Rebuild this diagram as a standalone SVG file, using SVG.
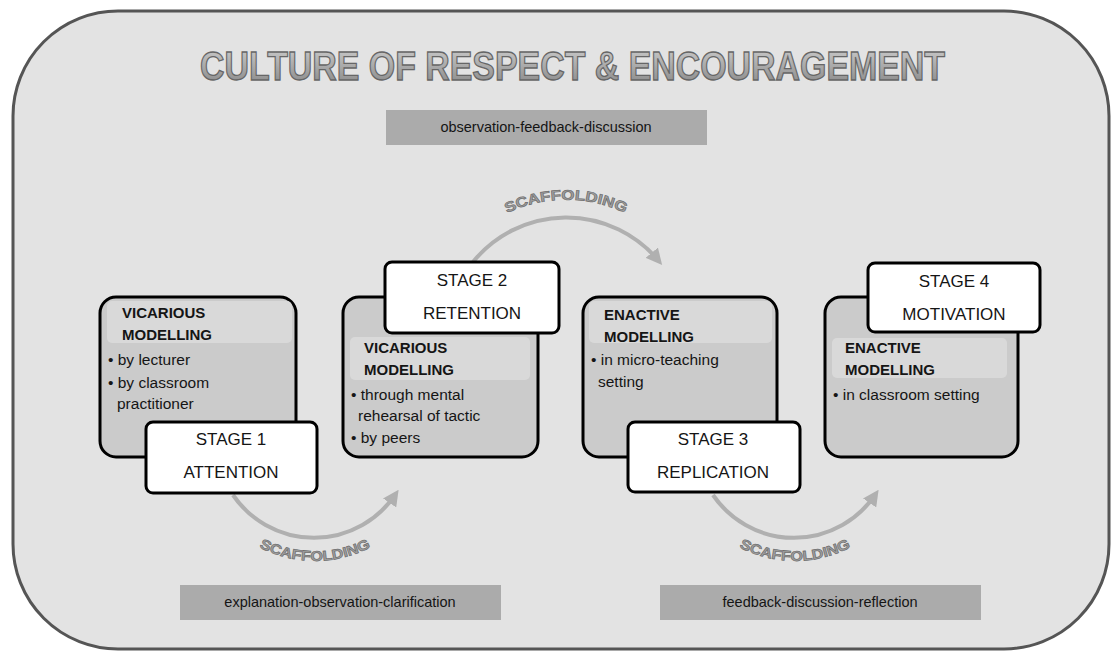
<svg xmlns="http://www.w3.org/2000/svg" width="1111" height="654" viewBox="0 0 1111 654">
<defs>
<linearGradient id="tg" x1="0" y1="0" x2="0" y2="1">
<stop offset="0" stop-color="#cfcfcf"/>
<stop offset="1" stop-color="#858585"/>
</linearGradient>
<marker id="ah" viewBox="0 0 10 10" refX="6" refY="5" markerWidth="4" markerHeight="4" orient="auto" markerUnits="strokeWidth">
<path d="M0,0 L10,5 L0,10 z" fill="#b0b0b0"/>
</marker>
<path id="tp1" d="M 471 238 A 137 137 0 0 1 661 238"/>
<path id="tp2" d="M 215 508 A 121 121 0 0 0 415 508"/>
<path id="tp3" d="M 695 508 A 121 121 0 0 0 895 508"/>
</defs>
<style>
.bg{fill:#e3e3e3;stroke:#555;stroke-width:3}
.gbox{fill:#cbcbcb;stroke:#000;stroke-width:3}
.band{fill:#d9d9d9}
.wbox{fill:#fff;stroke:#000;stroke-width:3}
.lbl{fill:#ababab}
.t{font-family:"Liberation Sans",Arial,sans-serif;fill:#151515}
.hd{font-size:15px;font-weight:bold}
.bl{font-size:15.5px}
.st{font-size:17px;text-anchor:middle}
.lb{font-size:14.5px;text-anchor:middle}
.arc{fill:none;stroke:#b0b0b0;stroke-width:4}
.sc{font-family:"Liberation Sans",Arial,sans-serif;font-size:14px;font-weight:bold;fill:#a0a0a0;stroke:#6e6e6e;stroke-width:0.7;text-anchor:middle}
</style>
<rect class="bg" x="13" y="11" width="1096" height="638" rx="105" ry="105"/>
<g id="title">
<text x="200" y="80" textLength="745" lengthAdjust="spacingAndGlyphs" font-family="Liberation Sans, Arial, sans-serif" font-size="40" font-weight="bold" fill="url(#tg)" stroke="#666" stroke-width="1.3">CULTURE OF RESPECT &amp; ENCOURAGEMENT</text>
</g>
<g id="label-top">
<rect class="lbl" x="386" y="110" width="321" height="35"/>
<text class="t lb" x="546" y="132">observation-feedback-discussion</text>
</g>
<g id="label-left">
<rect class="lbl" x="180" y="585" width="321" height="35"/>
<text class="t lb" x="340" y="607">explanation-observation-clarification</text>
</g>
<g id="label-right">
<rect class="lbl" x="660" y="585" width="321" height="35"/>
<text class="t lb" x="820" y="607">feedback-discussion-reflection</text>
</g>
<g id="connectors">
<path class="arc" d="M 473 262 A 120 120 0 0 1 658 260" marker-end="url(#ah)"/>
<path class="arc" d="M 233 495 A 98 98 0 0 0 395 495" marker-end="url(#ah)"/>
<path class="arc" d="M 713 495 A 98 98 0 0 0 875 495" marker-end="url(#ah)"/>
<text class="sc"><textPath href="#tp1" startOffset="50%" textLength="122" lengthAdjust="spacingAndGlyphs">SCAFFOLDING</textPath></text>
<text class="sc"><textPath href="#tp2" startOffset="50%" textLength="116" lengthAdjust="spacingAndGlyphs">SCAFFOLDING</textPath></text>
<text class="sc"><textPath href="#tp3" startOffset="50%" textLength="116" lengthAdjust="spacingAndGlyphs">SCAFFOLDING</textPath></text>
</g>
<g id="stage1">
<rect class="gbox" x="100" y="297" width="196" height="160" rx="16"/>
<rect class="band" x="107" y="301" width="185" height="42" rx="5"/>
<text class="t hd" x="122" y="318">VICARIOUS</text>
<text class="t hd" x="122" y="340">MODELLING</text>
<text class="t bl" x="108" y="365">• by lecturer</text>
<text class="t bl" x="108" y="388">• by  classroom</text>
<text class="t bl" x="117" y="409">practitioner</text>
<rect class="wbox" x="146" y="422" width="171" height="71" rx="7"/>
<text class="t st" x="231" y="445">STAGE 1</text>
<text class="t st" x="231" y="478">ATTENTION</text>
</g>
<g id="stage2">
<rect class="gbox" x="343" y="297" width="195" height="160" rx="16"/>
<rect class="band" x="350" y="337" width="180" height="43" rx="5"/>
<text class="t hd" x="364" y="353">VICARIOUS</text>
<text class="t hd" x="364" y="375">MODELLING</text>
<text class="t bl" x="351" y="400">• through mental</text>
<text class="t bl" x="358" y="421">rehearsal  of tactic</text>
<text class="t bl" x="351" y="443">• by peers</text>
<rect class="wbox" x="385" y="262" width="174" height="71" rx="7"/>
<text class="t st" x="472" y="286">STAGE 2</text>
<text class="t st" x="472" y="319">RETENTION</text>
</g>
<g id="stage3">
<rect class="gbox" x="583" y="297" width="194" height="160" rx="16"/>
<rect class="band" x="589" y="301" width="183" height="42" rx="5"/>
<text class="t hd" x="604" y="320">ENACTIVE</text>
<text class="t hd" x="604" y="342">MODELLING</text>
<text class="t bl" x="591" y="365">• in micro-teaching</text>
<text class="t bl" x="598" y="387">setting</text>
<rect class="wbox" x="628" y="422" width="172" height="70" rx="7"/>
<text class="t st" x="713" y="445">STAGE 3</text>
<text class="t st" x="713" y="478">REPLICATION</text>
</g>
<g id="stage4">
<rect class="gbox" x="825" y="297" width="193" height="160" rx="16"/>
<rect class="band" x="832" y="338" width="175" height="40" rx="5"/>
<text class="t hd" x="845" y="353">ENACTIVE</text>
<text class="t hd" x="845" y="375">MODELLING</text>
<text class="t bl" x="833" y="400">• in classroom setting</text>
<rect class="wbox" x="868" y="263" width="172" height="69" rx="7"/>
<text class="t st" x="954" y="287">STAGE 4</text>
<text class="t st" x="954" y="320">MOTIVATION</text>
</g>
</svg>
